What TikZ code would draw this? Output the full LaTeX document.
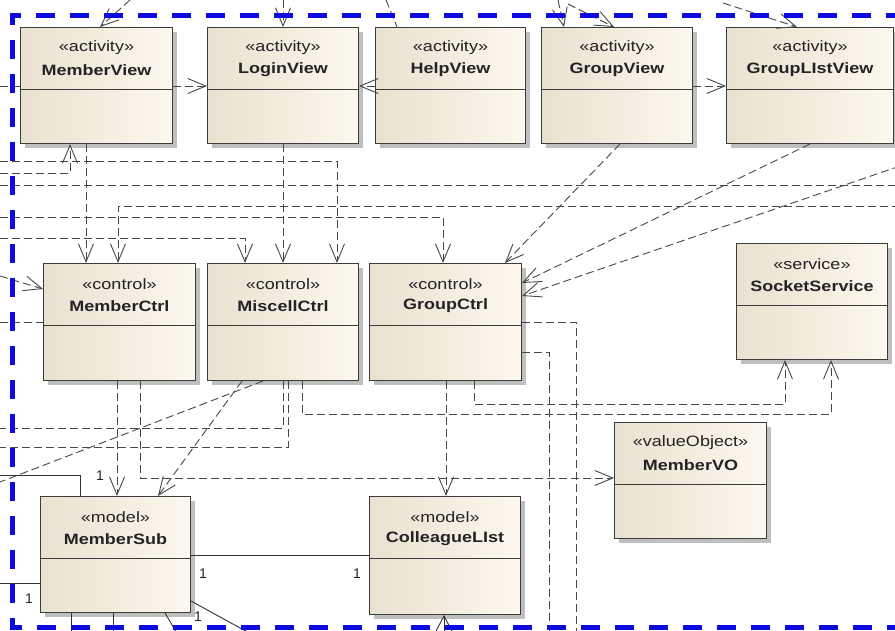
\documentclass[tikz,border=0pt]{standalone}
\usepackage{fontspec}
\setmainfont{Liberation Sans}
\usetikzlibrary{arrows.meta,shadows}
\definecolor{clsL}{RGB}{233,225,208}
\definecolor{clsR}{RGB}{253,248,238}
\definecolor{frameblue}{RGB}{12,12,225}
\definecolor{ink}{RGB}{35,35,35}
\definecolor{boxline}{RGB}{60,60,60}
\newcommand\hstretch[1]{\scalebox{1.2}[1]{#1}}
\tikzset{
  cls/.style={draw=boxline, line width=1pt, left color=clsL, right color=clsR,
    rectangle, inner sep=0pt,
    drop shadow={shadow xshift=4pt, shadow yshift=-4pt, fill=black!25, opacity=1}},
  divider/.style={draw=boxline, line width=0.9pt},
  stereo/.style={font=\fontsize{15}{17}\selectfont, text=ink, inner sep=0pt},
  cname/.style={font=\fontsize{15}{17}\selectfont\bfseries, text=ink, inner sep=0pt},
  dep/.style={draw=black!72, line width=0.9pt, dash pattern=on 8pt off 4pt},
  deparr/.style={dep, -{Straight Barb[length=18pt,width=15pt,line width=0.9pt]}},
  assoc/.style={draw=black!80, line width=0.9pt},
  mult/.style={font=\fontsize{14}{16}\selectfont, text=ink, inner sep=0pt},
  bframe/.style={draw=frameblue, line width=5pt, dash pattern=on 19pt off 15pt},
}
% #1 name, #2 x, #3 y (top-left), #4 width, #5 height, #6 stereotype, #7 title
\newcommand\umlcls[7]{%
  \node[cls, minimum width=#4pt, minimum height=#5pt, anchor=north west] (#1) at (#2,#3) {};
  \draw[divider] ([yshift=-62pt]#1.north west) -- ([yshift=-62pt]#1.north east);
  \node[stereo] at ([yshift=-21pt]#1.north) {\hstretch{«#6»}};
  \node[cname] at ([yshift=-43pt]#1.north) {\hstretch{#7}};
}
\begin{document}
\begin{tikzpicture}[x=1pt,y=-1pt]
\useasboundingbox (0,0) rectangle (895,630);
\clip (0,0) rectangle (895,630);
\fill[white] (0,0) rectangle (895,630);

% ---------- classes ----------
\umlcls{mv}{20}{27}{152}{116}{activity}{MemberView}
\umlcls{lv}{207}{27}{151}{116}{activity}{LoginView}
\umlcls{hv}{375}{27}{150}{116}{activity}{HelpView}
\umlcls{gv}{541}{27}{151}{116}{activity}{GroupView}
\umlcls{glv}{726}{27}{167}{116}{activity}{GroupLIstView}
\umlcls{mc}{43}{263}{152}{117}{control}{MemberCtrl}
\umlcls{mic}{207}{263}{151}{117}{control}{MiscellCtrl}
\umlcls{gc}{369}{263}{152}{117}{control}{GroupCtrl}
\umlcls{ss}{736}{243}{151}{116}{service}{SocketService}
\umlcls{vo}{614}{422}{152}{116}{valueObject}{MemberVO}
\umlcls{ms}{40}{496}{150}{116}{model}{MemberSub}
\umlcls{cl}{369}{496}{151}{118}{model}{ColleagueLIst}

% ---------- free ends ----------
\coordinate (t1) at (130,0);
\coordinate (t2) at (283,0);
\coordinate (t3) at (386,0);
\coordinate (t4) at (558,0);
\coordinate (t5) at (568,4);
\coordinate (t6) at (723,3);
\coordinate (l86) at (0,86);
\coordinate (l161) at (0,161);
\coordinate (l173) at (0,173);
\coordinate (l185) at (0,185);
\coordinate (r185) at (900,185);
\coordinate (r206) at (900,206);
\coordinate (l217) at (0,217);
\coordinate (l238) at (0,238);
\coordinate (r168) at (900,166);
\coordinate (l278) at (0,276);
\coordinate (l322) at (0,322);
\coordinate (l428) at (0,428);
\coordinate (l447) at (0,447);
\coordinate (l482) at (0,482);
\coordinate (b576) at (576,640);
\coordinate (b549) at (549,640);
\coordinate (l475) at (0,475);
\coordinate (l583) at (0,583);
\coordinate (b71) at (71,640);
\coordinate (b113) at (113,640);
\coordinate (b165) at (181,640);
\coordinate (b190) at (262,640);
\coordinate (b444) at (444,660);

% ---------- row 1 ----------
\draw[deparr] (t1) -- ([xshift=80pt]mv.north west);
\draw[deparr] (t2) -- ([xshift=76pt]lv.north west);
\draw[dep] (t3) -- ([xshift=22pt]hv.north west);
\draw[deparr] (t4) -- ([xshift=23pt]gv.north west);
\draw[deparr] (t5) -- ([xshift=73pt]gv.north west);
\draw[deparr] (t6) -- ([xshift=71pt]glv.north west);
\draw[deparr] ([yshift=-59pt]mv.north east) -- ([yshift=-59pt]lv.north west);
\draw[deparr] ([yshift=-59pt]hv.north west) -- ([yshift=-59pt]lv.north east);
\draw[deparr] ([yshift=-59pt]gv.north east) -- ([yshift=-59pt]glv.north west);
\draw[dep] (l86) -- ([yshift=-59pt]mv.north west);

% ---------- between rows ----------
\draw[deparr] (l161) -| ([xshift=130pt]mic.north west);
\draw[deparr] (l173) -| ([xshift=50pt]mv.south west);
\draw[dep] (l185) -- (r185);
\draw[deparr] (r206) -| ([xshift=75pt]mc.north west);
\draw[deparr] (l217) -| ([xshift=74pt]gc.north west);
\draw[deparr] (l238) -| ([xshift=38pt]mic.north west);
\draw[deparr] ([xshift=66pt]mv.south west) -- ([xshift=43pt]mc.north west);
\draw[deparr] ([xshift=76pt]lv.south west) -- ([xshift=76pt]mic.north west);
\draw[deparr] ([xshift=79pt]gv.south west) -- ([xshift=136pt]gc.north west);
\draw[deparr] ([xshift=84pt]glv.south west) -- ([yshift=-20pt]gc.north east);
\draw[deparr] (r168) -- ([yshift=-33pt]gc.north east);
\draw[deparr] (l278) -- ([yshift=-26pt]mc.north west);
\draw[dep] (l322) -- ([yshift=-59pt]mc.north west);

% ---------- below row 2 ----------
\draw[deparr] ([xshift=74pt]mc.south west) -- ([xshift=77pt]ms.north west);
\draw[deparr] ([xshift=97pt]mc.south west) |- ([yshift=-56pt]vo.north west);
\draw[dep] ([xshift=76pt]mic.south west) |- (l428);
\draw[dep] ([xshift=81pt]mic.south west) |- (l447);
\draw[deparr] ([xshift=95pt]mic.south west) -- ++(0,33) -| ([xshift=95pt]ss.south west);
\draw[deparr] ([xshift=105pt]gc.south west) -- ++(0,23) -| ([xshift=49pt]ss.south west);
\draw[dep] ([xshift=56pt]mic.south west) -- (l482);
\draw[deparr] ([xshift=35pt]mic.south west) -- ([xshift=118pt]ms.north west);
\draw[deparr] ([xshift=77pt]gc.south west) -- ([xshift=77pt]cl.north west);
\draw[dep] ([yshift=-59pt]gc.north east) -| (b576);
\draw[dep] ([yshift=-89pt]gc.north east) -| (b549);

% ---------- associations ----------
\draw[assoc] (l475) -| ([xshift=40pt]ms.north west);
\draw[assoc] (l583) -- ([yshift=-87pt]ms.north west);
\draw[assoc] ([yshift=-59pt]ms.north east) -- ([yshift=-59pt]cl.north west);
\draw[assoc] ([xshift=31pt]ms.south west) -- (b71);
\draw[assoc] ([xshift=73pt]ms.south west) -- (b113);
\draw[assoc] ([xshift=125pt]ms.south west) -- (b165);
\draw[assoc] ([yshift=-105pt]ms.north east) -- (b190);
\draw[assoc, -{Straight Barb[length=16pt,width=17pt,line width=0.9pt]}] (b444) -- ([xshift=75pt]cl.south west);

\node[mult] (m1) at (100,476) {1};
\node[mult] (m2) at (29,599) {1};
\node[mult] (m3) at (203,574) {1};
\node[mult] (m4) at (357,574) {1};
\node[mult] (m5) at (198,617) {1};

% ---------- frame ----------
\draw[bframe] (905,15) -- (12,15) -- (12,627) -- (905,627);
\end{tikzpicture}
\end{document}
